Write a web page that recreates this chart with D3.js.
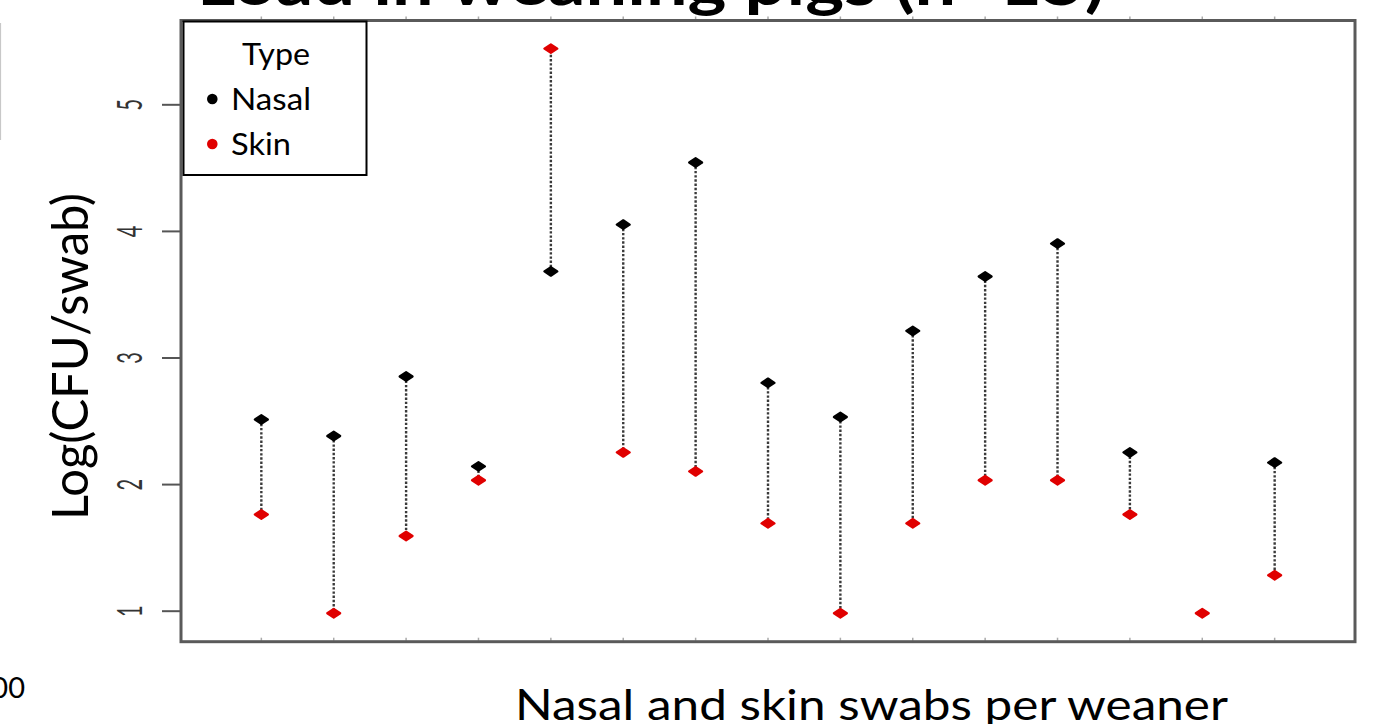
<!DOCTYPE html>
<html>
<head>
<meta charset="utf-8">
<script src="https://cdn.jsdelivr.net/npm/d3@7"></script>
<style>
  html, body { margin: 0; padding: 0; background: #fff; }
  svg { display: block; }
  text { font-family: Lato, "Open Sans", "Noto Sans", sans-serif; }
</style>
</head>
<body>
<svg id="chart" width="1379" height="724"></svg>
<script>
// ---- data ----
const weaners = [1, 2, 3, 4, 5, 6, 7, 8, 9, 10, 11, 12, 13, 14, 15];
const nasal   = [2.51, 2.38, 2.85, 2.14, 3.68, 4.05, 4.54, 2.80, 2.53, 3.21, 3.64, 3.90, 2.25, null, 2.17];
const skin    = [1.76, 0.98, 1.59, 2.03, 5.44, 2.25, 2.10, 1.69, 0.98, 1.69, 2.03, 2.03, 1.76, 0.98, 1.28];
const yTicks  = [1, 2, 3, 4, 5];
const seriesNames  = ["Nasal", "Skin"];
const seriesColors = ["#000000", "#e00000"];
const titleText  = "Load in weaning pigs (n=15)";
const xLabelText = "Nasal and skin swabs per weaner";
const yLabelText = "Log(CFU/swab)";
const legendTitle = "Type";

// ---- layout ----
const W = 1379, H = 724;
const plot = { left: 181, right: 1355, top: 20.5, bottom: 641.7 };

const svg = d3.select("#chart");
svg.append("rect").attr("width", W).attr("height", H).attr("fill", "#fff");

const x = d3.scaleLinear().domain([-0.11, 16.11]).range([plot.left, plot.right]);
const y = d3.scaleLinear().domain([0.755, 5.662]).range([plot.bottom, plot.top]);

// stray slide fragments
svg.append("line").attr("x1", 0.5).attr("x2", 0.5).attr("y1", 23).attr("y2", 140)
  .attr("stroke", "#c8c8c8").attr("stroke-width", 1.2);
svg.append("text").attr("x", 25).attr("y", 698).attr("text-anchor", "end")
  .attr("font-size", 29).attr("fill", "#000").text("00");

// title (cut off at top)
svg.append("text").attr("x", 197).attr("y", 5)
  .attr("font-size", 64).attr("font-weight", "bold").attr("fill", "#000")
  .attr("textLength", 908).attr("lengthAdjust", "spacingAndGlyphs")
  .text(titleText);

// y axis
const yAxis = d3.axisLeft(y).tickValues(yTicks).tickSize(19).tickPadding(0).tickFormat(d3.format("d"));
const gy = svg.append("g").attr("transform", `translate(${plot.left},0)`).call(yAxis);
gy.select(".domain").remove();
gy.selectAll(".tick line").attr("stroke", "#555").attr("stroke-width", 2);
gy.selectAll(".tick text")
  .attr("x", null).attr("dy", null)
  .attr("text-anchor", "middle")
  .attr("font-size", 20)
  .attr("fill", "#333")
  .attr("transform", "translate(-51,0) scale(1.75,1) rotate(-90) translate(0,7)");

// faint top/bottom tick marks
svg.append("g").selectAll("line").data(weaners).join("line")
  .attr("x1", d => x(d)).attr("x2", d => x(d))
  .attr("y1", plot.top - 1).attr("y2", plot.top - 4)
  .attr("stroke", "#aaa").attr("stroke-width", 1.5);
svg.append("g").selectAll("line").data(weaners).join("line")
  .attr("x1", d => x(d)).attr("x2", d => x(d))
  .attr("y1", plot.bottom - 1).attr("y2", plot.bottom - 4)
  .attr("stroke", "#aaa").attr("stroke-width", 1.5);

// connectors
const pairs = weaners.map((w, i) => ({ w, n: nasal[i], s: skin[i] }));
svg.append("g").selectAll("line").data(pairs.filter(p => p.n != null)).join("line")
  .attr("x1", d => x(d.w)).attr("x2", d => x(d.w))
  .attr("y1", d => y(d.n)).attr("y2", d => y(d.s))
  .attr("stroke", "#3a3a3a").attr("stroke-width", 2.4)
  .attr("stroke-dasharray", "2.4,1.8");

// markers
const marker = "M-6.5,0L0,-4.3L6.5,0L0,4.3Z";
[nasal, skin].forEach((vals, k) => {
  svg.append("g").selectAll("path")
    .data(weaners.map((w, i) => ({ w, v: vals[i] })).filter(d => d.v != null))
    .join("path")
    .attr("d", marker)
    .attr("transform", d => `translate(${x(d.w)},${y(d.v)})`)
    .attr("fill", seriesColors[k]).attr("stroke", seriesColors[k])
    .attr("stroke-width", 2.2).attr("stroke-linejoin", "round");
});

// plot frame
svg.append("rect")
  .attr("x", plot.left).attr("y", plot.top)
  .attr("width", plot.right - plot.left).attr("height", plot.bottom - plot.top)
  .attr("fill", "none").attr("stroke", "#5a5a5a").attr("stroke-width", 3);

// legend
const lg = svg.append("g");
lg.append("rect").attr("x", 183.5).attr("y", 21.5).attr("width", 183).attr("height", 153.5)
  .attr("fill", "#fff").attr("stroke", "#000").attr("stroke-width", 2);
lg.append("text").attr("x", 242).attr("y", 65).attr("font-size", 30)
  .attr("textLength", 68).attr("lengthAdjust", "spacingAndGlyphs").text(legendTitle);
const legendRows = [
  { name: seriesNames[0], color: seriesColors[0], cy: 99, base: 110, len: 80 },
  { name: seriesNames[1], color: seriesColors[1], cy: 144, base: 155, len: 60 }
];
legendRows.forEach(r => {
  lg.append("circle").attr("cx", 212.3).attr("cy", r.cy).attr("r", 5.3).attr("fill", r.color);
  lg.append("text").attr("x", 231).attr("y", r.base).attr("font-size", 31)
    .attr("textLength", r.len).attr("lengthAdjust", "spacingAndGlyphs").text(r.name);
});

// axis titles
svg.append("text").attr("x", 515).attr("y", 720).attr("font-size", 43)
  .attr("textLength", 713).attr("lengthAdjust", "spacingAndGlyphs").text(xLabelText);
svg.append("text").attr("transform", "translate(88,520) rotate(-90)")
  .attr("font-size", 50)
  .attr("textLength", 327).attr("lengthAdjust", "spacingAndGlyphs").text(yLabelText);
</script>
</body>
</html>
